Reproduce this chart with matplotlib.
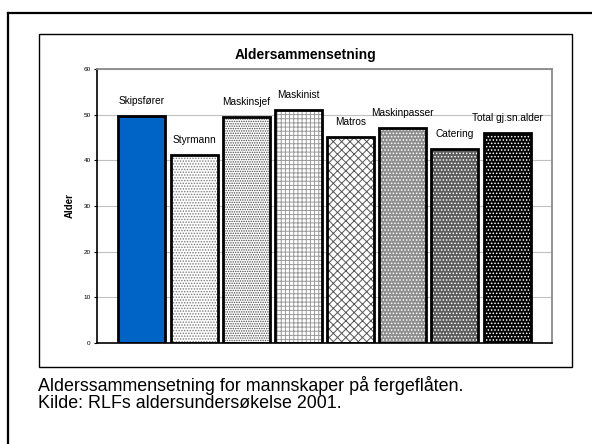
import matplotlib.pyplot as plt
from matplotlib.patches import Rectangle
from matplotlib.lines import Line2D

plt.rcParams['font.family'] = ['Liberation Sans', 'DejaVu Sans']

# data
groups = ["Skipsfører", "Styrmann", "Maskinsjef", "Maskinist",
          "Matros", "Maskinpasser", "Catering", "Total gj.sn.alder"]
ages = [49.7, 41.2, 49.5, 51.0, 45.1, 47.1, 42.5, 45.9]
yticks = [0, 10, 20, 30, 40, 50, 60]

# fill look per bar: face, hatch, hatch colour
faces = ['#0063c6', 'white', 'white', 'white', 'white', '#8e8e8e', '#5c5c5c', 'black']
hatches = [None, '......', '.......', '++++', 'xxxx', '.....', '.....', '.....']
hatch_cols = ['#0063c6', '#7a7a7a', '#4a4a4a', '#9a9a9a', '#555555', 'white', 'white', 'white']

fig = plt.figure(figsize=(5.92, 4.44), dpi=100)

# outer slide border (left and top only visible) and chart frame
fig.add_artist(Line2D([8/592, 8/592], [0, 1 - 13/444], color='black', lw=1.6))
fig.add_artist(Line2D([8/592, 1], [1 - 13/444, 1 - 13/444], color='black', lw=1.6))
fig.add_artist(Rectangle((39/592, 1 - 367/444), 533/592, 333/444, fill=False,
                         edgecolor='black', lw=1.0))

ax = fig.add_axes([97/592, 1 - 343/444, 455/592, 274/444])
x = range(len(groups))
plt.rcParams['hatch.linewidth'] = 0.7
for i in x:
    ax.bar(i, ages[i], width=0.9, color=faces[i], hatch=hatches[i],
           edgecolor=hatch_cols[i], linewidth=0, zorder=2)
ax.bar(x, ages, width=0.9, fill=False, edgecolor='black', linewidth=2.0, zorder=3)

for i in x:
    ax.annotate(groups[i], (i, ages[i]), xytext=(0, 10.8), textcoords='offset points',
                ha='center', va='center', fontsize=7.3)

ax.set_xlim(-0.86, 7.86)
ax.set_ylim(0, 60)
ax.set_yticks(yticks)
ax.set_xticks([])
ax.tick_params(axis='y', labelsize=4.6, length=2.5, width=0.8, pad=2)
ax.yaxis.grid(True, color='#c0c0c0', lw=0.8, zorder=0)
ax.set_axisbelow(True)
for s in ['top', 'right']:
    ax.spines[s].set_color('#8a8a8a')
    ax.spines[s].set_linewidth(1.3)
for s in ['left', 'bottom']:
    ax.spines[s].set_color('black')
    ax.spines[s].set_linewidth(1.2)

ax.set_ylabel('Alder', fontsize=7, fontweight='bold', labelpad=6)
fig.text(305.5/592, 1 - 55/444, 'Aldersammensetning', ha='center', va='center',
         fontsize=10, fontweight='bold')

fig.text(38/592, 1 - 391/444, 'Alderssammensetning for mannskaper på fergeflåten.',
         ha='left', va='baseline', fontsize=12.9)
fig.text(38/592, 1 - 408/444, 'Kilde: RLFs aldersundersøkelse 2001.',
         ha='left', va='baseline', fontsize=12.9)

fig.savefig('out.png', dpi=100)
